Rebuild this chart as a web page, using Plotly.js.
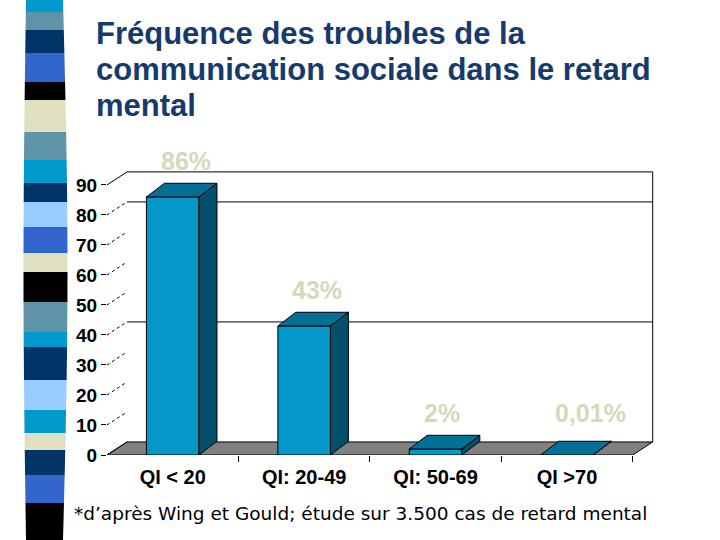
<!DOCTYPE html>
<html>
<head>
<meta charset="utf-8">
<script src="https://cdn.plot.ly/plotly-3.0.1.min.js"></script>
<style>
  html, body { margin: 0; padding: 0; background: #fff; }
  #chart { width: 720px; height: 540px; }
</style>
</head>
<body>
<div id="chart"></div>
<script>
// data
const categories = ['QI < 20', 'QI: 20-49', 'QI: 50-69', 'QI >70'];
const frequences = [86, 43, 2, 0.01];
const valueLabels = ['86%', '43%', '2%', '0,01%'];
const yTicks = [0, 10, 20, 30, 40, 50, 60, 70, 80, 90];
const wallGridValues = [40, 80];
const titleLines = ['Fréquence des troubles de la', 'communication sociale dans le retard', 'mental'];

// decorative strip on the left (top px, bottom px, colour key)
const stripColors = {
    C: '#0099cc', S: '#5f93a8', N: '#003366', B: '#3366cc',
    K: '#000000', E: '#e0e0c0', L: '#99ccff'
};
const stripBands = [
    [0, 12, 'C'], [12, 30, 'S'], [30, 53, 'N'], [53, 82, 'B'], [82, 100, 'K'],
    [100, 132, 'E'], [132, 160, 'S'], [160, 183, 'C'], [183, 202, 'N'],
    [202, 227, 'L'], [227, 253, 'B'], [253, 272, 'E'], [272, 302, 'K'],
    [302, 332, 'S'], [332, 347, 'C'], [347, 380, 'N'], [380, 410, 'L'],
    [410, 433, 'C'], [433, 450, 'E'], [450, 475, 'N'], [475, 503, 'B'],
    [503, 540, 'K']
];

// =======! geometry of the fake 3d !=======
const W = 720, H = 540;
const plotL = 107, plotR = 654, plotT = 171, plotB = 455;
const dx = 0.152;          // depth of the wall, in category units
const dy = 4.35;           // depth of the wall, in value units
const bdx = dx * 0.9, bdy = dy * 1.05;   // depth of the bars
const barW = 0.40;
const xMax = 3.5 + dx + 0.01;
const yMax = 90 + dy + 0.3;
const arial = 'Liberation Sans, Arial, sans-serif';

const px2paperX = px => (px - plotL) / (plotR - plotL);
const px2paperY = py => (plotB - py) / (plotB - plotT);

const sideX = [], sideY = [], topX = [], topY = [];
frequences.forEach((v, i) => {
    const xl = i - barW / 2, xr = i + barW / 2;
    sideX.push(xr, xr + bdx, xr + bdx, xr, xr, null);
    sideY.push(0, bdy, v + bdy, v, 0, null);
    topX.push(xl, xr, xr + bdx, xl + bdx, xl, null);
    topY.push(v, v, v + bdy, v + bdy, v, null);
});

const traces = [
    {
        type: 'bar', x: categories.map((c, i) => i), y: frequences, width: barW,
        marker: {color: '#0398c9', line: {color: '#000', width: 1}},
        hoverinfo: 'skip', showlegend: false
    },
    {
        type: 'scatter', mode: 'lines', x: sideX, y: sideY, fill: 'toself',
        fillcolor: '#04506c', line: {color: '#000', width: 1},
        hoverinfo: 'skip', showlegend: false
    },
    {
        type: 'scatter', mode: 'lines', x: topX, y: topY, fill: 'toself',
        fillcolor: '#036f96', line: {color: '#000', width: 1},
        hoverinfo: 'skip', showlegend: false
    }
];

const shapes = [];

// floor
shapes.push({
    type: 'path', xref: 'x', yref: 'y', layer: 'below',
    path: `M -0.5,0 L 3.5,0 L ${3.5 + dx},${dy} L ${-0.5 + dx},${dy} Z`,
    fillcolor: '#808080', line: {color: '#000', width: 1}
});
// back wall frame + gridlines
shapes.push({type: 'line', xref: 'x', yref: 'y', layer: 'below',
    x0: -0.5 + dx, x1: 3.5 + dx, y0: 90 + dy, y1: 90 + dy, line: {color: '#000', width: 1}});
shapes.push({type: 'line', xref: 'x', yref: 'y', layer: 'below',
    x0: 3.5 + dx, x1: 3.5 + dx, y0: dy, y1: 90 + dy, line: {color: '#000', width: 1}});
wallGridValues.forEach(v => shapes.push({type: 'line', xref: 'x', yref: 'y', layer: 'below',
    x0: -0.5 + dx, x1: 3.5 + dx, y0: v + dy, y1: v + dy, line: {color: '#000', width: 1}}));
// diagonal tick extensions on the side wall
yTicks.forEach(v => shapes.push({type: 'line', xref: 'x', yref: 'y', layer: 'below',
    x0: -0.5, x1: -0.5 + dx, y0: v, y1: v + dy,
    line: {color: '#000', width: 1, dash: (v === 0 || v === 90) ? 'solid' : 'dot'}}));

// left strip
const stripLeft = py => 26 - 2.5 * Math.sin(Math.PI * py / H);
const stripRight = py => 63 + 4.5 * Math.sin(Math.PI * py / H);
stripBands.forEach(([y0, y1, key]) => {
    const pts = [[stripLeft(y0), y0], [stripRight(y0), y0], [stripRight(y1), y1], [stripLeft(y1), y1]]
        .map(([a, b]) => `${px2paperX(a)},${px2paperY(b)}`);
    shapes.push({
        type: 'path', xref: 'paper', yref: 'paper', layer: 'below',
        path: `M ${pts[0]} L ${pts[1]} L ${pts[2]} L ${pts[3]} Z`,
        fillcolor: stripColors[key], line: {width: 0}
    });
});

const annotations = frequences.map((v, i) => ({
    x: i, y: Math.max(v, 2) + dy, xref: 'x', yref: 'y',
    text: valueLabels[i], showarrow: false,
    xanchor: 'left', yanchor: 'middle', xshift: -14, yshift: 23,
    font: {family: arial, size: 25, color: '#d5d9bc', weight: 'bold'}
}));

// title, one annotation per line to keep the slide's line spacing
titleLines.forEach((line, k) => annotations.push({
    x: px2paperX(94), y: px2paperY(33 + 36.5 * k), xref: 'paper', yref: 'paper',
    xanchor: 'left', yanchor: 'middle', showarrow: false, text: line,
    font: {family: arial, size: 31, color: '#163a6c', weight: 'bold'}
}));

annotations.push({
    x: px2paperX(72), y: px2paperY(513), xref: 'paper', yref: 'paper',
    xanchor: 'left', yanchor: 'middle', showarrow: false,
    text: '*d\u2019après Wing et Gould; étude sur 3.500 cas de retard mental',
    font: {family: 'DejaVu Sans, sans-serif', size: 18.5, color: '#000'}
});

const layout = {
    width: W, height: H,
    margin: {l: plotL, r: W - plotR, t: plotT, b: H - plotB, pad: 0},
    paper_bgcolor: '#fff', plot_bgcolor: 'rgba(0,0,0,0)',
    showlegend: false,
    xaxis: {
        range: [-0.5, xMax], showgrid: false, zeroline: false, showline: false,
        tickvals: categories.map((c, i) => i), ticktext: categories,
        ticks: '', ticklabelstandoff: 8,
        minor: {tickvals: [0.5, 1.5, 2.5, 3.5], ticks: 'outside', ticklen: 6, tickcolor: '#000', showgrid: false},
        tickfont: {family: arial, size: 20, color: '#000', weight: 'bold'},
        fixedrange: true
    },
    yaxis: {
        range: [0, yMax], showgrid: false, zeroline: false, showline: false,
        tickvals: yTicks, ticks: 'outside', ticklen: 5, tickcolor: '#000',
        tickfont: {family: arial, size: 19, color: '#000', weight: 'bold'},
        fixedrange: true
    },
    shapes: shapes,
    annotations: annotations
};

Plotly.newPlot('chart', traces, layout, {displayModeBar: false, staticPlot: true});
</script>
</body>
</html>
